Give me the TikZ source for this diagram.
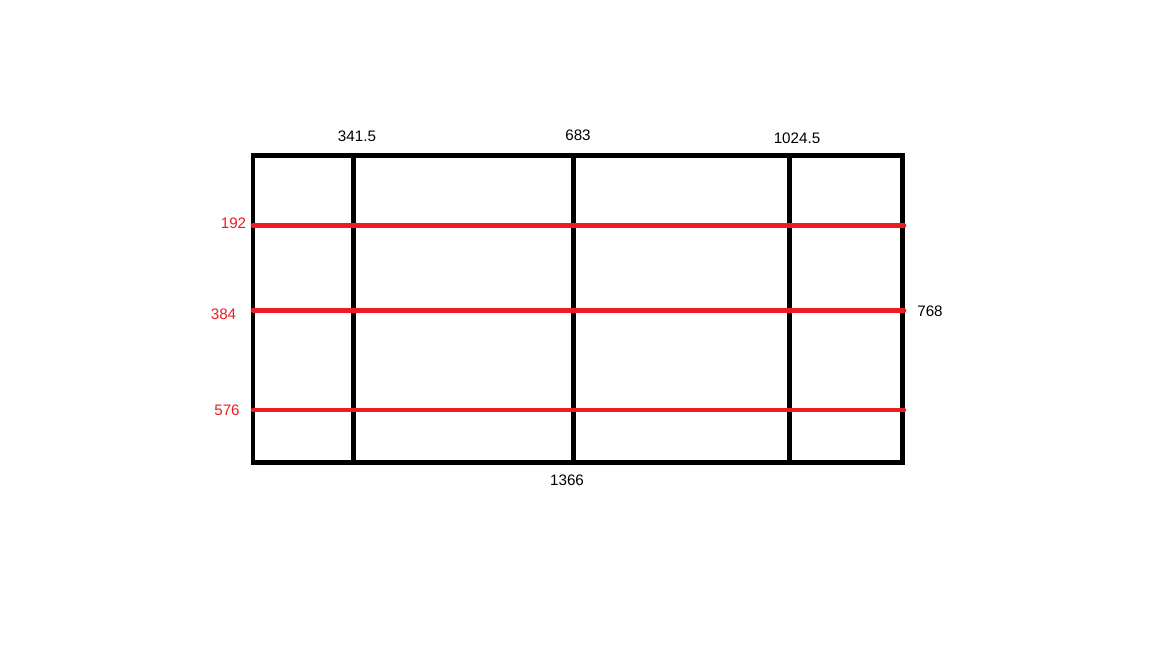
\documentclass[tikz,border=0pt]{standalone}
\usepackage{fontspec}
\setmainfont{Liberation Sans}
\definecolor{pred}{HTML}{ED1C24}
\begin{document}
\begin{tikzpicture}[x=1pt,y=-1pt,
  frame/.style={draw=black,line width=4.5pt},
  redline/.style={draw=pred,line width=4.5pt,line cap=round},
  lbl/.style={font=\fontsize{15.2}{17}\selectfont,inner sep=0pt,text=black},
  rlbl/.style={lbl,text=pred}]
\useasboundingbox (0,0) rectangle (1152,648);
% red horizontal lines
\coordinate (r1a) at (253,225.5); \coordinate (r1b) at (904,225.5);
\coordinate (r2a) at (253,310.5); \coordinate (r2b) at (904,310.5);
\coordinate (r3a) at (253,410); \coordinate (r3b) at (904,410);
% frame
\coordinate (tl) at (253,155.5);
\coordinate (br) at (902.5,462.5);
\draw[frame] (tl) rectangle (br);
\coordinate (v1t) at (353.5,155.5); \coordinate (v1b) at (353.5,462.5);
\coordinate (v2t) at (573.5,155.5); \coordinate (v2b) at (573.5,462.5);
\coordinate (v3t) at (789.5,155.5); \coordinate (v3b) at (789.5,462.5);
\draw[frame] (v1t) -- (v1b);
\draw[frame] (v2t) -- (v2b);
\draw[frame] (v3t) -- (v3b);
\draw[redline] (r1a) -- (r1b);
\draw[redline] (r2a) -- (r2b);
\draw[redline] (r3a) -- (r3b);
% labels
\node[lbl] (t1) at (357,136) {341.5};
\node[lbl] (t2) at (578,135) {683};
\node[lbl] (t3) at (797,138) {1024.5};
\node[lbl] (t4) at (930,311.5) {768};
\node[lbl] (t5) at (567,480.5) {1366};
\node[rlbl] (l1) at (233.5,223.5) {192};
\node[rlbl] (l2) at (223.5,314) {384};
\node[rlbl] (l3) at (227,410) {576};
\end{tikzpicture}
\end{document}
